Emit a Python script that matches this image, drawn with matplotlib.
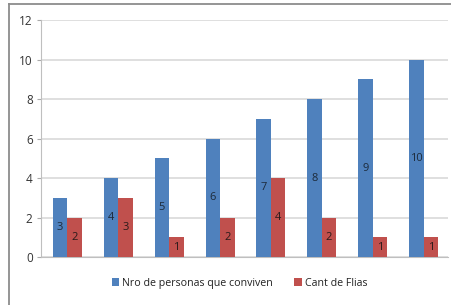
import numpy as np
import matplotlib.pyplot as plt
from matplotlib.lines import Line2D

plt.rcParams['font.family'] = ['Open Sans', 'DejaVu Sans']

# Datos
categorias = np.arange(8)
personas = [3, 4, 5, 6, 7, 8, 9, 10]
familias = [2, 3, 1, 2, 4, 2, 1, 1]
etiquetas_y = [0, 2, 4, 6, 8, 10, 12]

azul = '#4F81BD'
rojo = '#C0504D'

fig = plt.figure(figsize=(4.52, 3.05), dpi=100)
ax = fig.add_axes([0.0907, 0.157, 0.9003, 0.777])

ancho = 0.285
b1 = ax.bar(categorias - ancho / 2 + 0.02, personas, ancho, color=azul,
            label='Nro de personas que conviven', zorder=3)
b2 = ax.bar(categorias + ancho / 2 + 0.02, familias, ancho, color=rojo,
            label='Cant de Flias', zorder=3)
ax.bar_label(b1, label_type='center', fontsize=8, color='#1c2a3a')
ax.bar_label(b2, label_type='center', fontsize=8, color='#2a1a1a')

ax.set_xlim(-0.5, 7.5)
ax.set_ylim(0, 12)
ax.set_yticks(etiquetas_y)
ax.set_xticks([])
ax.tick_params(axis='y', labelsize=8.5, colors='#aaaaaa', labelcolor='#333333',
               length=3, width=0.8, pad=3)
ax.yaxis.grid(True, color='#d9d9d9', linewidth=1.2, zorder=0)
for lado in ['top', 'right']:
    ax.spines[lado].set_visible(False)
ax.spines['left'].set_color('#bfbfbf')
ax.spines['bottom'].set_color('#bfbfbf')

fig.legend(loc='center', bbox_to_anchor=(0.53, 0.072), ncol=2, frameon=False,
           fontsize=7.7, handlelength=0.7, handleheight=0.7, handletextpad=0.3,
           columnspacing=2.0, labelcolor='#222222')

# marco exterior
fig.add_artist(Line2D([9 / 452, 1], [1 - 4 / 305, 1 - 4 / 305],
                      transform=fig.transFigure, color='#8c8c8c', linewidth=1.3))
fig.add_artist(Line2D([9 / 452, 9 / 452], [0, 1 - 4 / 305],
                      transform=fig.transFigure, color='#8c8c8c', linewidth=1.3))

fig.savefig('out.png', dpi=100)
